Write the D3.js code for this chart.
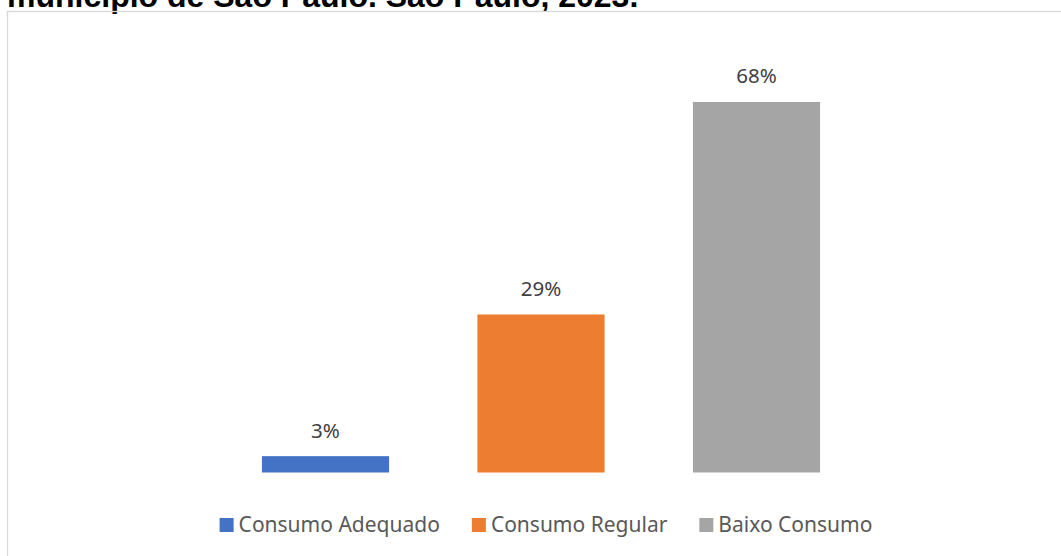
<!DOCTYPE html>
<html>
<head>
<meta charset="utf-8">
<script src="https://cdn.jsdelivr.net/npm/d3@7"></script>
<style>
  html, body { margin: 0; padding: 0; background: #fff; }
  svg { display: block; }
</style>
</head>
<body>
<svg id="chart" width="1061" height="556"></svg>
<script>
// Consumption categories and their shares (%)
const categories = ["Consumo Adequado", "Consumo Regular", "Baixo Consumo"];
const values = [3, 29, 68];
const valueLabels = ["3%", "29%", "68%"];
const colors = ["#4472C4", "#ED7D31", "#A5A5A5"];
const titleText = "município de São Paulo. São Paulo, 2023.";

const svg = d3.select("#chart");

// Title line (partly above the page edge)
svg.append("text")
  .attr("x", 7)
  .attr("y", 7)
  .attr("font-family", "'Liberation Sans', Arial, sans-serif")
  .attr("font-weight", "bold")
  .attr("font-size", 32)
  .attr("fill", "#000")
  .text(titleText);

// Chart area frame
svg.append("rect")
  .attr("x", 7.5)
  .attr("y", 11.5)
  .attr("width", 1100)
  .attr("height", 600)
  .attr("fill", "none")
  .attr("stroke", "#d9d9d9")
  .attr("stroke-width", 1.3);

const x = d3.scaleBand()
  .domain(categories)
  .range([217.75, 864.25])
  .paddingInner(0.41)
  .paddingOuter(0.205);

const y = d3.scaleLinear()
  .domain([0, 80])
  .range([472.5, 36.6]);

const data = categories.map((c, i) => ({ c, v: values[i], label: valueLabels[i], color: colors[i] }));

svg.append("g").selectAll("rect")
  .data(data)
  .join("rect")
  .attr("x", d => x(d.c))
  .attr("y", d => y(d.v))
  .attr("width", x.bandwidth())
  .attr("height", d => y(0) - y(d.v))
  .attr("fill", d => d.color);

svg.append("g").selectAll("text")
  .data(data)
  .join("text")
  .attr("x", d => x(d.c) + x.bandwidth() / 2)
  .attr("y", d => y(d.v) - 18.5)
  .attr("text-anchor", "middle")
  .attr("font-family", "'Noto Sans', 'Open Sans', sans-serif")
  .attr("font-size", 20.5)
  .attr("fill", "#404040")
  .text(d => d.label);

// Legend, centered under the plot
const legend = svg.append("g");
const items = legend.selectAll("g")
  .data(data)
  .join("g");
items.append("rect")
  .attr("x", 0)
  .attr("y", 518)
  .attr("width", 14)
  .attr("height", 14)
  .attr("fill", d => d.color);
items.append("text")
  .attr("x", 19)
  .attr("y", 532)
  .attr("font-family", "'Noto Sans', 'Open Sans', sans-serif")
  .attr("font-size", 21)
  .attr("fill", "#595959")
  .text(d => d.c);

const gap = 32;
let cursor = 0;
items.each(function () {
  const g = d3.select(this);
  const w = 19 + g.select("text").node().getComputedTextLength();
  g.attr("transform", `translate(${cursor},0)`);
  cursor += w + gap;
});
const total = cursor - gap;
legend.attr("transform", `translate(${546 - total / 2},0)`);
</script>
</body>
</html>
